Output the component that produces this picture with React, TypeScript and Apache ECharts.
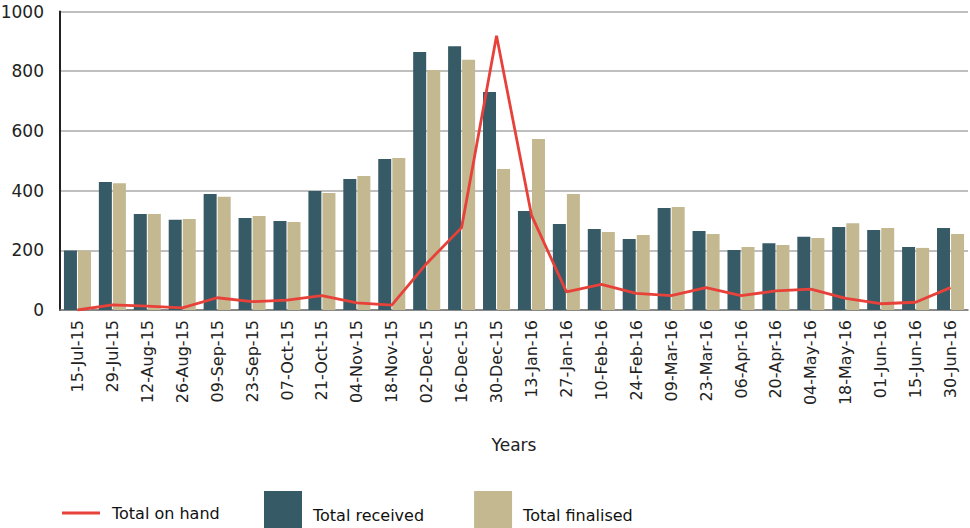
import React, { useEffect, useRef } from "react";
import * as echarts from "echarts";

const categories = [
  "15-Jul-15", "29-Jul-15", "12-Aug-15", "26-Aug-15", "09-Sep-15", "23-Sep-15",
  "07-Oct-15", "21-Oct-15", "04-Nov-15", "18-Nov-15", "02-Dec-15", "16-Dec-15",
  "30-Dec-15", "13-Jan-16", "27-Jan-16", "10-Feb-16", "24-Feb-16", "09-Mar-16",
  "23-Mar-16", "06-Apr-16", "20-Apr-16", "04-May-16", "18-May-16", "01-Jun-16",
  "15-Jun-16", "30-Jun-16",
];

const totalReceived = [
  199, 429, 322, 302, 389, 308, 298, 399, 439, 506, 864, 884, 730, 332, 288, 271,
  238, 342, 265, 201, 224, 245, 278, 268, 211, 275,
];

const totalFinalised = [
  199, 425, 322, 305, 379, 315, 295, 392, 449, 509, 804, 838, 472, 573, 389, 261,
  251, 345, 255, 211, 218, 241, 291, 275, 208, 255,
];

const totalOnHand = [
  0, 17, 13, 7, 41, 28, 33, 48, 24, 16, 156, 276, 919, 318, 61, 86, 56, 48, 75,
  48, 64, 70, 39, 21, 26, 75,
];

const yTicks = [0, 200, 400, 600, 800, 1000];

const RED = "#e8413a";
const TEAL = "#365a66";
const BEIGE = "#c4b891";
const FONT = "DejaVu Sans";

export default function App() {
  const ref = useRef<HTMLDivElement>(null);

  useEffect(() => {
    if (!ref.current) return;
    const chart = echarts.init(ref.current, undefined, { renderer: "svg" });
    chart.setOption({
      animation: false,
      textStyle: { fontFamily: FONT },
      grid: {
        left: 60,
        right: 2,
        top: 11.5,
        bottom: 218,
        containLabel: false,
        outerBoundsMode: "none",
      },
      legend: [
        {
          data: [{ name: "Total on hand", icon: "rect" }],
          left: 57,
          top: 500,
          itemWidth: 38,
          itemHeight: 3,
          textStyle: { fontSize: 16, color: "#111", fontFamily: FONT, padding: [4, 0, 0, 7] },
        },
        {
          data: [
            { name: "Total received", icon: "rect" },
            { name: "Total finalised", icon: "rect" },
          ],
          left: 259,
          top: 486,
          itemWidth: 38,
          itemHeight: 38,
          itemGap: 50,
          formatter: (name: string) => "{t|" + name + "}",
          textStyle: {
            fontSize: 16,
            color: "#111",
            fontFamily: FONT,
            rich: {
              t: { fontSize: 16, color: "#111", fontFamily: FONT, padding: [10, 0, 0, 6] },
            },
          },
        },
      ],
      xAxis: {
        type: "category",
        data: categories,
        name: "Years",
        nameLocation: "middle",
        nameGap: 126,
        nameTextStyle: { fontSize: 17, color: "#222", fontFamily: FONT },
        axisLine: { lineStyle: { color: "#777", width: 1.5 } },
        axisTick: { inside: true, length: 5, lineStyle: { color: "#222", width: 1.5 } },
        axisLabel: {
          rotate: 90,
          fontSize: 16,
          color: "#222",
          margin: 10,
          interval: 0,
          fontFamily: FONT,
        },
      },
      yAxis: {
        type: "value",
        min: yTicks[0],
        max: yTicks[yTicks.length - 1],
        interval: 200,
        axisLine: { show: true, lineStyle: { color: "#222", width: 2 } },
        axisTick: { show: false },
        axisLabel: {
          fontSize: 17,
          color: "#222",
          margin: 16,
          fontFamily: FONT,
          formatter: (v: number) => String(v),
        },
        splitLine: { lineStyle: { color: "#aaa", width: 1.5 } },
      },
      series: [
        {
          name: "Total received",
          type: "bar",
          data: totalReceived,
          barWidth: 13,
          barGap: "8%",
          itemStyle: { color: TEAL },
        },
        {
          name: "Total finalised",
          type: "bar",
          data: totalFinalised,
          barWidth: 13,
          barGap: "8%",
          itemStyle: { color: BEIGE },
        },
        {
          name: "Total on hand",
          type: "line",
          data: totalOnHand,
          symbol: "none",
          z: 5,
          lineStyle: { color: RED, width: 2.8 },
          itemStyle: { color: RED },
        },
      ],
    });
    return () => chart.dispose();
  }, []);

  return <div ref={ref} style={{ width: 970, height: 528, position: "absolute", left: 0, top: 0 }} />;
}
